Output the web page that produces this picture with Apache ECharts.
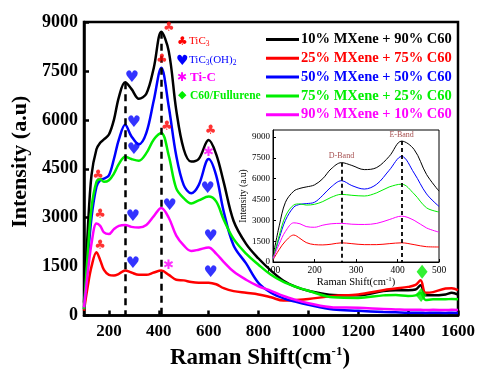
<!DOCTYPE html>
<html><head><meta charset="utf-8">
<script src="https://cdn.jsdelivr.net/npm/echarts@6/dist/echarts.min.js"></script>
<style>html,body{margin:0;padding:0;background:#fff}#c{width:479px;height:375px}</style>
</head><body><div id="c"></div>
<script>
// ---------- data ----------
const ramanShift = [100,115,130,150,165,180,200,220,240,265,290,320,350,380,410,440,470,500,530,560,600,630,660,700,750,800,850,900,950,1000,1100,1200,1300,1350,1400,1430,1450,1470,1500,1550,1575,1600];
const mx10 = [400,2600,4300,5100,5300,5400,5550,6000,6700,7150,6950,6650,6800,7600,8700,8100,6300,5100,4720,4800,5380,4950,4100,2900,2200,1750,1380,1070,880,760,630,620,750,780,780,800,930,620,620,650,700,640];
const mx25 = [150,900,1500,1940,1700,1400,1250,1230,1280,1380,1320,1250,1250,1320,1380,1250,1100,1080,1030,1010,1010,960,840,750,700,650,560,460,480,510,600,650,780,830,880,940,1080,700,720,830,840,780];
const mx50 = [200,1700,3000,3950,4150,4200,4300,4800,5400,5850,5500,5250,5600,6600,7600,6400,4900,4000,3750,4000,4800,4300,3200,2150,1600,1000,700,530,420,330,190,150,110,100,90,90,90,80,90,80,90,80];
const mx75 = [200,1900,3300,4100,4180,4100,4150,4350,4650,4870,4800,4750,4980,5400,5600,4900,3900,3600,3440,3530,3650,3500,2950,2350,1900,1560,1250,1030,880,760,560,540,620,630,600,620,690,480,500,500,510,500];
const mx90 = [250,1300,2200,2820,2750,2550,2500,2650,2750,2780,2720,2700,2780,3050,3300,3000,2450,2150,1980,2020,2090,1900,1650,1350,1100,900,760,600,480,380,250,240,200,190,180,180,180,170,180,170,180,170];
const seriesNames = ['10% MXene + 90% C60','25% MXene + 75% C60','50% MXene + 50% C60','75% MXene + 25% C60','90% MXene + 10% C60'];
const seriesValues = [mx10, mx25, mx50, mx75, mx90];

const xTickValues = [200,400,600,800,1000,1200,1400,1600];
const yTickValues = [0,1500,3000,4500,6000,7500,9000];
const insetXTicks = [100,200,300,400,500];

// band positions (cm-1) and dashed-line tops
const bandShifts = [265, 410];
const bandTops = [7150, 8700];
const bandNames = ['D-Band','E-Band'];
const bandLabelY = [7650, 9150];

// annotation marker positions [shift, intensity]
const tic3Marks = [[440,8820],[412,7860],[432,5800],[608,5680],[156,4305],[164,3080],[164,2150]];
const ticOHMarks = [[292,7300],[300,5920],[300,5080],[296,3020],[296,1585],[444,3350],[596,3890],[608,2420],[608,1315]];
const tiCMarks = [[600,4990],[440,1525]];
const c60Marks = [[1456,1345],[1452,630]];

// ---------- styles ----------
const colors = ['#000000','#ff0000','#0000ff','#00ee00','#ff00ff'];
const serif = '"Liberation Serif","Times New Roman",serif';
const plain = v => String(v);

const chart = echarts.init(document.getElementById('c'), null, {renderer:'canvas'});

const series = [];
seriesNames.forEach((name, k) => {
  const pts = ramanShift.map((x, i) => [x, seriesValues[k][i]]);
  const main = {
    name, type:'line', xAxisIndex:0, yAxisIndex:0, data: pts, smooth:0.35,
    showSymbol:false, symbol:'none', lineStyle:{color:colors[k], width:2.5}, itemStyle:{color:colors[k]}, z:3
  };
  const inset = {
    name, type:'line', xAxisIndex:1, yAxisIndex:1, data: pts.filter(p => p[0] <= 500), smooth:0.35,
    showSymbol:false, symbol:'none', lineStyle:{color:colors[k], width:1}, itemStyle:{color:colors[k]}, z:3
  };
  if (k === 0) {
    const ml = bandShifts.map((b, j) => [{coord:[b, bandTops[j]]},{coord:[b, 0]}]);
    main.markLine = {silent:true, symbol:['none','none'], label:{show:false},
      lineStyle:{color:'#000', width:2.5, type:[7,5]}, data: ml};
    inset.markLine = {silent:true, symbol:['none','none'], label:{show:false},
      lineStyle:{color:'#000', width:1.8, type:[4,3]}, data: ml.map(x=>x)};
  }
  series.push(main, inset);
});

function glyphSeries(data, glyph, color, size, font) {
  return {type:'scatter', xAxisIndex:0, yAxisIndex:0, data, symbolSize:1, itemStyle:{color:'rgba(0,0,0,0)'}, z:5,
    label:{show:true, position:'inside', formatter:glyph, color, fontSize:size, fontFamily:font || '"DejaVu Sans"'}};
}
series.push(glyphSeries(tic3Marks, '\u2663', '#ff0000', 13));
series.push(glyphSeries(ticOHMarks, '\u2665', '#0000ff', 16));
series.push(glyphSeries(tiCMarks, '\u2731', '#ff00ff', 13));
series.push({type:'scatter', xAxisIndex:0, yAxisIndex:0, data:c60Marks, symbol:'diamond', symbolSize:[11,14], itemStyle:{color:'#00ee00'}, z:5});
series.push({type:'scatter', xAxisIndex:1, yAxisIndex:1, symbolSize:1, itemStyle:{color:'rgba(0,0,0,0)'},
  data: bandShifts.map((b,j)=>({value:[b, bandLabelY[j]], name:bandNames[j]})), z:5,
  label:{show:true, position:'inside', formatter:p=>p.name, color:'#8b1a1a', fontSize:8, fontFamily:serif}});

const option = {
  animation:false,
  backgroundColor:'#fff',
  legend:{
    orient:'vertical', left:261, top:27, itemWidth:33, itemHeight:3, itemGap:3.8,
    icon:'rect',
    data: seriesNames.map((n,k)=>({name:n, textStyle:{color:colors[k]}})),
    textStyle:{fontFamily:serif, fontWeight:'bold', fontSize:14.5, lineHeight:14.5, padding:[0,0,0,-3]}
  },
  grid:[
    {left:84, top:22, width:374, height:301, show:true, borderColor:'#000', borderWidth:2.5},
    {left:273, top:130, width:166, height:132, show:true, borderColor:'#000', borderWidth:1}
  ],
  xAxis:[
    {type:'value', gridIndex:0, min:100, max:1600,
     axisLine:{show:true, lineStyle:{color:'#000', width:2.5}},
     axisTick:{show:true, inside:true, length:5, lineStyle:{width:2.5}, customValues:xTickValues},
     axisLabel:{customValues:xTickValues, formatter:plain, color:'#000', fontFamily:serif, fontWeight:'bold', fontSize:17, margin:8},
     splitLine:{show:false},
     name:'{t|Raman Shift(cm}{s|-1}{t|)}', nameLocation:'middle', nameGap:28,
     nameTextStyle:{padding:[0,22,0,0], rich:{
       t:{fontFamily:serif, fontWeight:'bold', fontSize:23, color:'#000', lineHeight:26},
       s:{fontFamily:serif, fontWeight:'bold', fontSize:13, color:'#000', verticalAlign:'top', lineHeight:14}}}
    },
    {type:'value', gridIndex:1, min:100, max:500, interval:100,
     axisLine:{show:true, lineStyle:{color:'#000', width:1}},
     axisTick:{show:true, inside:true, length:3, customValues:insetXTicks},
     axisLabel:{customValues:insetXTicks, formatter:plain, color:'#000', fontFamily:serif, fontSize:9.5, margin:3},
     splitLine:{show:false},
     name:'{t|Raman Shift(cm}{s|-1}{t|)}', nameLocation:'middle', nameGap:12,
     nameTextStyle:{rich:{
       t:{fontFamily:serif, fontSize:10.5, color:'#000', lineHeight:12},
       s:{fontFamily:serif, fontSize:7, color:'#000', verticalAlign:'top', lineHeight:7}}}
    }
  ],
  yAxis:[
    {type:'value', gridIndex:0, min:0, max:9000, interval:1500,
     axisLine:{show:true, lineStyle:{color:'#000', width:2.5}},
     axisTick:{show:true, inside:true, length:5, lineStyle:{width:2.5}},
     axisLabel:{formatter:plain, color:'#000', fontFamily:serif, fontWeight:'bold', fontSize:18, margin:6},
     splitLine:{show:false},
     name:'Intensity (a.u)', nameLocation:'middle', nameRotate:90, nameGap:50,
     nameTextStyle:{fontFamily:serif, fontWeight:'bold', fontSize:22, color:'#000', padding:[0,0,0,14]}
    },
    {type:'value', gridIndex:1, min:0, max:9500,
     axisLine:{show:true, lineStyle:{color:'#000', width:1}},
     axisTick:{show:true, inside:true, length:3, customValues:yTickValues},
     axisLabel:{customValues:yTickValues, formatter:plain, color:'#000', fontFamily:serif, fontSize:9, margin:3},
     splitLine:{show:false},
     name:'Intensity (a.u)', nameLocation:'middle', nameRotate:90, nameGap:22,
     nameTextStyle:{fontFamily:serif, fontSize:9.5, color:'#000'}
    }
  ],
  graphic:[
    {type:'text', left:177, top:36, style:{text:'\u2663', fill:'#ff0000', font:'12px "DejaVu Sans"'}},
    {type:'text', left:189, top:36, style:{rich:{a:{fontFamily:serif, fontSize:11, fill:'#ff0000', lineHeight:13}, s:{fontFamily:serif, fontSize:7.5, fill:'#ff0000', verticalAlign:'bottom', lineHeight:8}}, text:'{a|TiC}{s|3}'}},
    {type:'text', left:176, top:54, style:{text:'\u2665', fill:'#0000ff', font:'14px "DejaVu Sans"'}},
    {type:'text', left:189, top:55, style:{rich:{a:{fontFamily:serif, fontSize:11, fill:'#0000ff', lineHeight:13}, s:{fontFamily:serif, fontSize:7.5, fill:'#0000ff', verticalAlign:'bottom', lineHeight:8}}, text:'{a|TiC}{s|3}{a|(OH)}{s|2}'}},
    {type:'text', left:177, top:72, style:{text:'\u2731', fill:'#ff00ff', font:'12px "DejaVu Sans"'}},
    {type:'text', left:190, top:71, style:{text:'Ti-C', fill:'#ff00ff', font:'bold 13px "Liberation Serif"'}},
    {type:'text', left:178, top:90, style:{text:'\u25c6', fill:'#00ee00', font:'11px "DejaVu Sans"'}},
    {type:'text', left:190, top:90, style:{text:'C60/Fullurene', fill:'#00ee00', font:'bold 11.5px "Liberation Serif"'}}
  ],
  series
};
chart.setOption(option);
</script></body></html>
